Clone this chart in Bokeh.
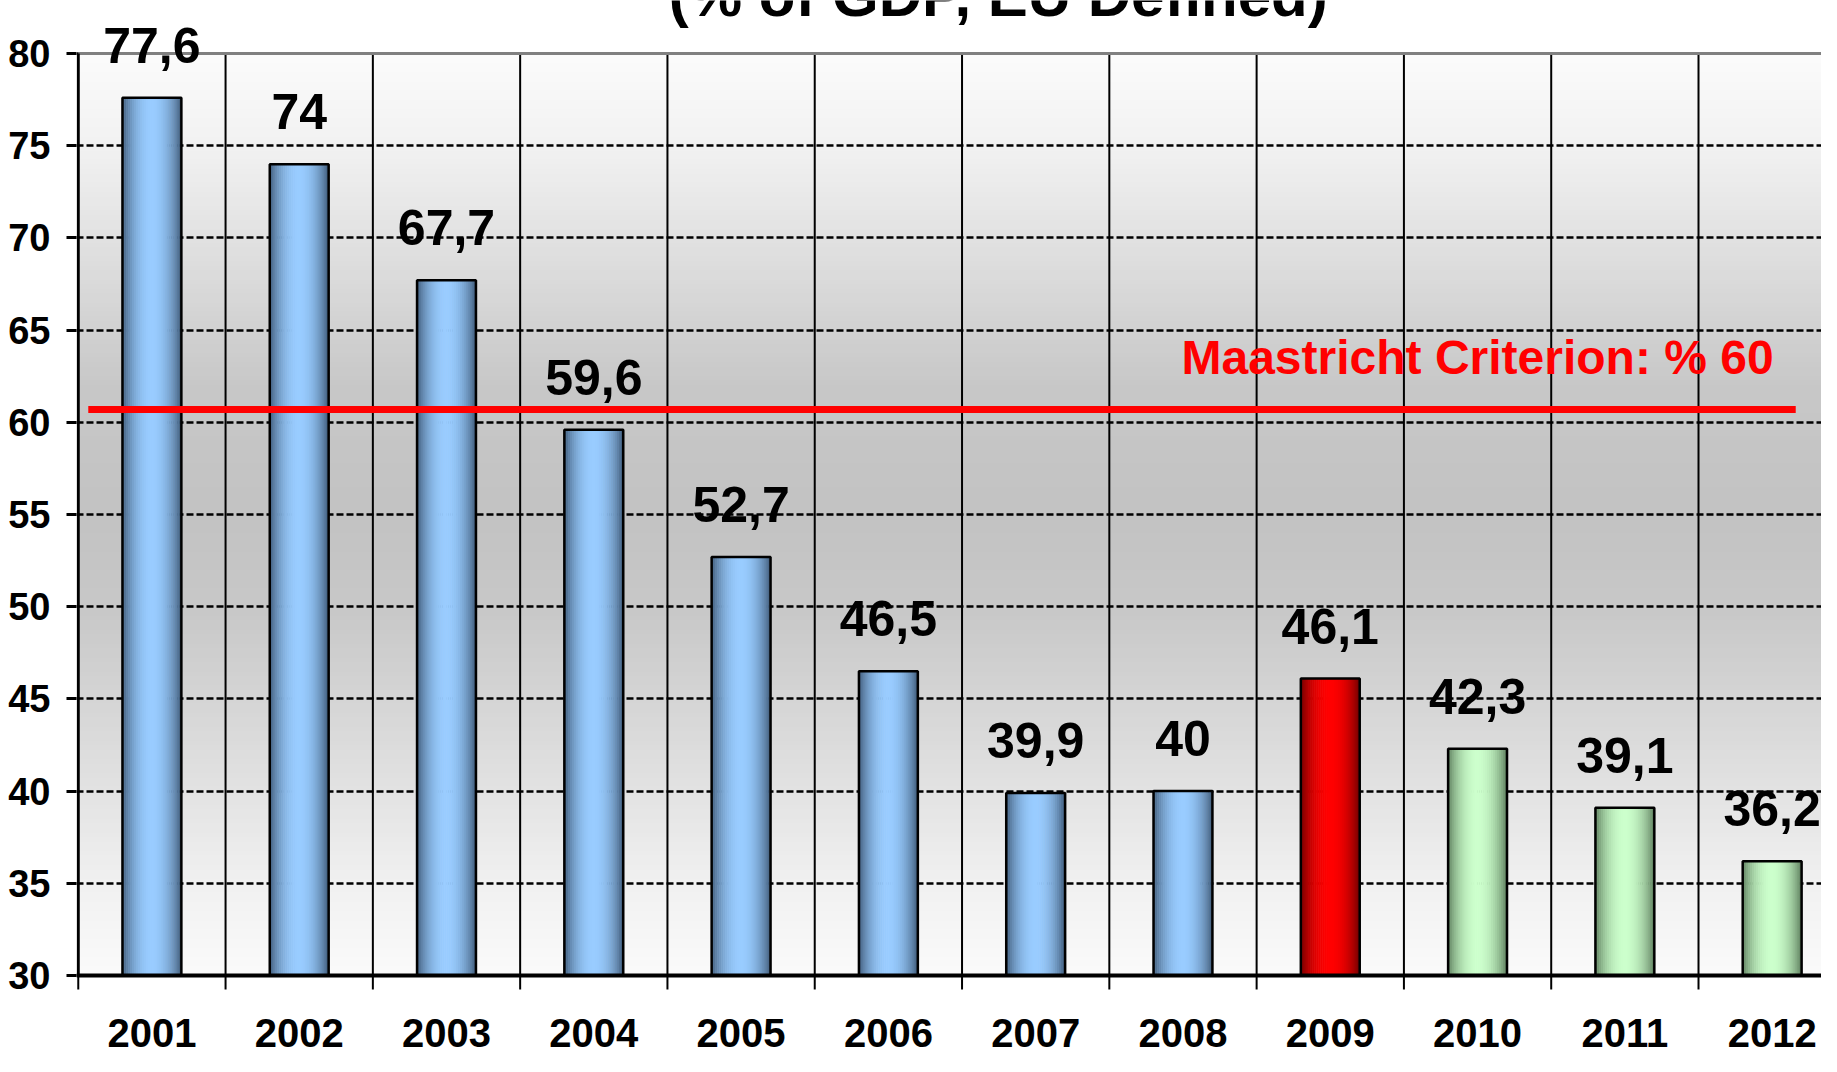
import numpy as np
from bokeh.plotting import figure
from bokeh.models import ColumnDataSource, Range1d, FixedTicker, LabelSet
from bokeh.core.properties import value
from bokeh.embed import file_html
from bokeh.resources import INLINE

# ---------------- data ----------------
years = ["2001", "2002", "2003", "2004", "2005", "2006",
         "2007", "2008", "2009", "2010", "2011", "2012"]
debt = [77.6, 74.0, 67.7, 59.6, 52.7, 46.5, 39.9, 40.0, 46.1, 42.3, 39.1, 36.2]
bar_kind = ["actual"] * 8 + ["highlight"] + ["forecast"] * 3
y_ticks = [30, 35, 40, 45, 50, 55, 60, 65, 70, 75, 80]
maastricht_level = 60.7
maastricht_text = "Maastricht Criterion: % 60"
title_text = "(% of GDP, EU Defined)"

# ---------------- styles ----------------
FONT = "Liberation Sans"
BAR_W = 0.40
N_STRIPS = 30
Y_MIN, Y_MAX = 30, 80
PX_PER_UNIT = 18.44
palettes = {
    "actual": ("#38526e", "#99ccff"),
    "highlight": ("#660000", "#ff0000"),
    "forecast": ("#557455", "#ccffcc"),
}


def hex2rgb(h):
    h = h.lstrip("#")
    return np.array([int(h[i:i + 2], 16) for i in (0, 2, 4)], dtype=float)


def mix(c1, c2, t):
    c = hex2rgb(c1) * (1 - t) + hex2rgb(c2) * t
    return "#%02x%02x%02x" % tuple(int(round(v)) for v in c)


n = len(years)
centers = [i + 0.5 for i in range(n)]
boundaries = list(range(0, n + 1))
labels = [("%g" % v).replace(".", ",") for v in debt]

p = figure(width=1821, height=1056,
           x_range=Range1d(-0.012, 11.835), y_range=Range1d(25.607, 82.874),
           x_axis_location=None,
           output_backend="svg", toolbar_location=None,
           min_border_left=76, min_border_right=0,
           min_border_top=0, min_border_bottom=0)
p.outline_line_color = None
p.background_fill_color = "white"
p.border_fill_color = "white"

# background vertical gradient (white -> grey -> white) between 30 and 80
g_vals = [30, 35, 40, 45, 50, 55, 62, 70, 75, 80]
g_grey = [251, 241, 227, 213, 200, 195, 200, 226, 242, 252]
step = 0.25
ys = np.arange(Y_MIN, Y_MAX, step)
bg_cols = []
for y in ys:
    gv = np.interp(y + step / 2, g_vals, g_grey)
    bg_cols.append("#%02x%02x%02x" % (int(gv), int(gv), int(gv)))
tops = np.minimum(ys + 2 * step, Y_MAX)
bg = p.quad(left=0, right=12, bottom=ys, top=tops, fill_color=bg_cols,
            line_color=None)
bg.level = "image"

# grids
p.ygrid.ticker = FixedTicker(ticks=y_ticks)
p.ygrid.grid_line_color = "black"
p.ygrid.grid_line_width = 2.5
p.ygrid.grid_line_dash = "7 3"
p.xgrid.grid_line_color = None

# vertical category separators (between 30 and 80) + ticks below the x axis
vs = p.segment(x0=boundaries[1:], y0=Y_MIN, x1=boundaries[1:], y1=Y_MAX,
               line_color="black", line_width=2)
vs.level = "underlay"
tick_len = 14 / PX_PER_UNIT
p.segment(x0=boundaries, y0=Y_MIN, x1=boundaries, y1=Y_MIN - tick_len,
          line_color="black", line_width=2)

# gradient bars built from strips
sx, sw, st, sc = [], [], [], []
for i in range(n):
    dark, light = palettes[bar_kind[i]]
    for j in range(N_STRIPS):
        t = (j + 0.5) / N_STRIPS
        f = np.sin(np.pi * t) ** 0.7
        sx.append(centers[i] - BAR_W / 2 + t * BAR_W)
        sw.append(BAR_W / N_STRIPS * 1.3)
        st.append(debt[i])
        sc.append(mix(dark, light, f))
strips = ColumnDataSource(dict(x=sx, w=sw, top=st, color=sc))
p.vbar(x="x", width="w", top="top", bottom=Y_MIN, fill_color="color",
       line_color=None, source=strips)

src = ColumnDataSource(dict(x=centers, top=debt, label=labels, year=years,
                            base=[Y_MIN] * n))
p.vbar(x="x", width=BAR_W, top="top", bottom=Y_MIN, fill_alpha=0,
       line_color="black", line_width=2.5, source=src)

# Maastricht line and text
p.line(x=[0.068, 11.66], y=[maastricht_level, maastricht_level],
       line_color="#ff0000", line_width=7)
msrc = ColumnDataSource(dict(x=[9.5], y=[62.6], t=[maastricht_text]))
p.add_layout(LabelSet(x="x", y="y", text="t", source=msrc,
                      text_align="center", text_baseline="alphabetic",
                      text_color="#ff0000", text_font=value(FONT),
                      text_font_style="bold", text_font_size="48px"))

# top grey line at 80, x axis line at 30, left axis line (30..80)
p.segment(x0=[0], y0=[Y_MAX], x1=[12], y1=[Y_MAX], line_color="#808080",
          line_width=3)
p.segment(x0=[-0.012], y0=[Y_MIN], x1=[12], y1=[Y_MIN], line_color="black",
          line_width=4)
p.segment(x0=[0], y0=[Y_MIN], x1=[0], y1=[Y_MAX], line_color="black",
          line_width=3)

# value labels
p.add_layout(LabelSet(x="x", y="top", text="label", source=src, y_offset=35,
                      text_align="center", text_baseline="alphabetic",
                      text_font=value(FONT), text_font_style="bold",
                      text_font_size="50px", text_color="black"))

# year labels
p.add_layout(LabelSet(x="x", y="base", text="year", source=src, y_offset=-72,
                      text_align="center", text_baseline="alphabetic",
                      text_font=value(FONT), text_font_style="bold",
                      text_font_size="40px", text_color="black"))

# title (cut off at the top like the reference)
tsrc = ColumnDataSource(dict(x=[6.246], y=[82.06], t=[title_text]))
p.add_layout(LabelSet(x="x", y="y", text="t", source=tsrc,
                      text_align="center", text_baseline="alphabetic",
                      text_color="black", text_font=value(FONT),
                      text_font_style="bold", text_font_size="60px"))

# y axis (ticks + labels only; line drawn above)
p.yaxis.ticker = FixedTicker(ticks=y_ticks)
p.yaxis.axis_line_color = None
p.yaxis.major_tick_out = 10
p.yaxis.major_tick_in = 0
p.yaxis.major_tick_line_width = 3
p.yaxis.major_tick_line_color = "black"
p.yaxis.minor_tick_line_color = None
p.yaxis.major_label_standoff = 16
p.yaxis.major_label_text_font = FONT
p.yaxis.major_label_text_font_style = "bold"
p.yaxis.major_label_text_font_size = "38px"
p.yaxis.major_label_text_color = "black"

open("out.html", "w").write(file_html(p, INLINE))
